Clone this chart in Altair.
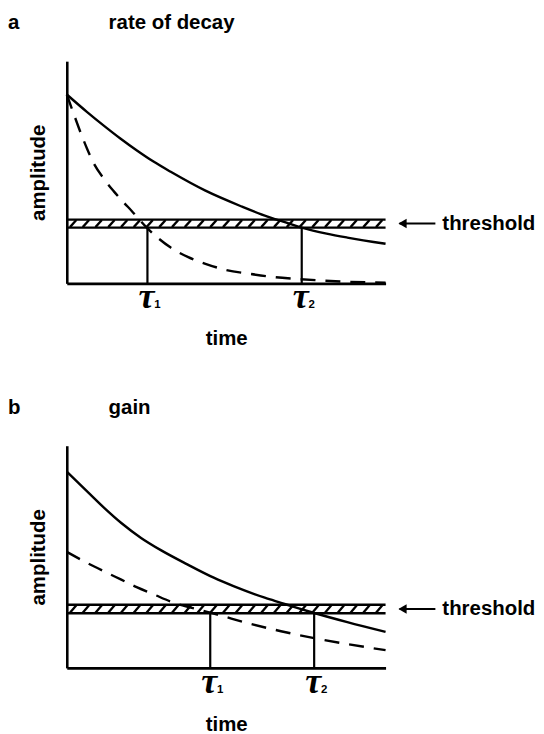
import altair as alt
import pandas as pd

# ---------------- data ----------------
# panel a : rate of decay
a_solid_t = [0, 0.63, 1.16, 1.68, 2.20, 2.72, 3.26, 4.35, 5.5, 6.3, 7.0, 7.4, 8.15, 8.8, 10]
a_solid_v = [8.5, 7.72, 7.1, 6.52, 5.98, 5.48, 5.02, 4.17, 3.45, 3.0, 2.68, 2.5, 2.24, 2.06, 1.78]
a_dash_t = [0, 0.22, 0.43, 0.63, 0.84, 1.16, 1.47, 1.78, 2.03, 2.5, 3.26, 3.81, 4.35, 5.0, 5.78, 6.52, 7.2, 7.97, 8.8, 10]
a_dash_v = [8.5, 7.62, 6.8, 6.08, 5.42, 4.71, 4.15, 3.65, 3.27, 2.52, 1.61, 1.18, 0.88, 0.6, 0.42, 0.28, 0.2, 0.13, 0.07, 0.03]
a_band = [2.51, 2.87]
a_taus = [2.53, 7.37]

# panel b : gain
b_solid_t = [0, 0.67, 1.19, 1.71, 2.33, 2.95, 3.78, 4.61, 5.23, 6.21, 6.72, 7.25, 7.76, 8.8, 10]
b_solid_v = [8.83, 7.9, 7.18, 6.52, 5.85, 5.3, 4.66, 4.06, 3.68, 3.16, 2.93, 2.69, 2.47, 2.06, 1.62]
b_dash_t = [0, 0.67, 1.19, 1.71, 2.21, 2.74, 3.25, 4.5, 4.92, 5.69, 6.72, 7.76, 8.8, 10]
b_dash_v = [5.22, 4.70, 4.33, 3.97, 3.62, 3.30, 2.99, 2.49, 2.32, 2.01, 1.65, 1.34, 1.07, 0.80]
b_band = [2.46, 2.84]
b_taus = [4.5, 7.76]

tau_names = ["1", "2"]

# ---------------- styling ----------------
FONT = "Liberation Sans"
FS = 20.5
W, H = 320, 223
LW = 2.4
INK = "black"


def panel(letter, title, st, sv, dt, dv, band, taus, time_pad):
    xs = alt.Scale(domain=[0, 10], nice=False, zero=False)
    ys = alt.Scale(domain=[0, 10], nice=False, zero=False)
    xaxis = alt.Axis(title="time", labels=False, ticks=False, grid=False,
                     domainColor=INK, domainWidth=2.6,
                     titleFont=FONT, titleFontSize=FS, titleFontWeight="bold",
                     titleColor=INK, titlePadding=time_pad)
    yaxis = alt.Axis(title="amplitude", labels=False, ticks=False, grid=False,
                     domainColor=INK, domainWidth=2.6,
                     titleFont=FONT, titleFontSize=FS, titleFontWeight="bold",
                     titleColor=INK, titlePadding=18)

    def X(f):
        return alt.X(f, type="quantitative", scale=xs, axis=xaxis)

    def Y(f):
        return alt.Y(f, type="quantitative", scale=ys, axis=yaxis)

    solid = alt.Chart(pd.DataFrame({"t": st, "v": sv})).mark_line(
        color=INK, strokeWidth=LW, interpolate="monotone"
    ).encode(x=X("t"), y=Y("v"))

    dashed = alt.Chart(pd.DataFrame({"t": dt, "v": dv})).mark_line(
        color=INK, strokeWidth=LW, interpolate="monotone", strokeDash=[15, 10]
    ).encode(x=X("t"), y=Y("v"))

    band_df = pd.DataFrame({"edge": band})
    band_lines = alt.Chart(band_df).mark_rule(color=INK, strokeWidth=LW).encode(y=Y("edge"))

    hatch = alt.Chart(alt.sequence(0.1, 9.85, 0.4, as_="h")).transform_calculate(
        h2="datum.h + 0.2", lo=f"{band[0]} + 0.02", hi=f"{band[1]} - 0.02"
    ).mark_rule(color=INK, strokeWidth=2.3).encode(
        x=X("h"), x2="h2:Q", y=Y("lo"), y2="hi:Q")

    tau_df = pd.DataFrame({"tau": taus, "base": [0, 0], "top": [band[0]] * 2,
                           "sym": ["τ", "τ"], "sub": tau_names})
    tau_lines = alt.Chart(tau_df).mark_rule(color=INK, strokeWidth=2.2).encode(
        x=X("tau"), y=Y("base"), y2="top:Q")
    tau_text = alt.Chart(tau_df).mark_text(
        font="Liberation Serif", fontStyle="italic", fontWeight="bold", fontSize=36, color=INK,
        baseline="alphabetic", align="center", dx=-1
    ).encode(x=X("tau"), y=alt.value(H + 25), text="sym:N")
    tau_sub = alt.Chart(tau_df).mark_text(
        font=FONT, fontWeight="bold", fontSize=11.5, color=INK,
        baseline="alphabetic", align="center", dx=10
    ).encode(x=X("tau"), y=alt.value(H + 25), text="sub:N")

    mid_df = pd.DataFrame({"mid": [(band[0] + band[1]) / 2], "lab": ["threshold"]})
    arrow_line = alt.Chart(mid_df).mark_rule(color=INK, strokeWidth=2).encode(
        x=alt.value(W + 14), x2=alt.value(W + 50), y=Y("mid"))
    arrow_head = alt.Chart(mid_df).mark_point(
        shape="triangle-left", filled=True, color=INK, opacity=1, size=90
    ).encode(x=alt.value(W + 17), y=Y("mid"))
    thr_text = alt.Chart(mid_df).mark_text(
        font=FONT, fontWeight="bold", fontSize=FS, color=INK, align="left", baseline="middle"
    ).encode(x=alt.value(W + 57), y=Y("mid"), text="lab:N")

    head_df = pd.DataFrame({"letter": [letter], "title": [title]})
    letter_text = alt.Chart(head_df).mark_text(
        font=FONT, fontWeight="bold", fontSize=FS, color=INK, align="left", baseline="alphabetic"
    ).encode(x=alt.value(-59), y=alt.value(-32), text="letter:N")
    title_text = alt.Chart(head_df).mark_text(
        font=FONT, fontWeight="bold", fontSize=FS, color=INK, align="left", baseline="alphabetic"
    ).encode(x=alt.value(42), y=alt.value(-32), text="title:N")

    return alt.layer(
        band_lines, hatch, tau_lines, dashed, solid, tau_text, tau_sub,
        arrow_line, arrow_head, thr_text, letter_text, title_text
    ).properties(width=W, height=H)


pa = panel("a", "rate of decay", a_solid_t, a_solid_v, a_dash_t, a_dash_v, a_band, a_taus, 45)
pb = panel("b", "gain", b_solid_t, b_solid_v, b_dash_t, b_dash_v, b_band, b_taus, 47)

chart = alt.vconcat(pa, pb, spacing=49).properties(
    padding={"left": 0, "top": 4, "right": 0, "bottom": 0}
).configure(background="white").configure_view(stroke=None)

chart.save("out.html", embed_options={"renderer": "svg", "actions": False})
